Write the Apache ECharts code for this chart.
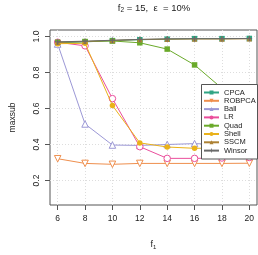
<!DOCTYPE html>
<html><head><meta charset="utf-8">
<script src="https://cdn.jsdelivr.net/npm/echarts@6/dist/echarts.min.js"></script>
<style>html,body{margin:0;padding:0;background:#fff}#c{width:258px;height:255px}</style>
</head><body><div id="c"></div>
<script>
const xValues = [6, 8, 10, 12, 14, 16, 18, 20];
const xTicks = [6, 8, 10, 12, 14, 16, 18, 20];
const yTicks = [0.2, 0.4, 0.6, 0.8, 1.0];
const seriesNames = ['CPCA', 'ROBPCA', 'Ball', 'LR', 'Quad', 'Shell', 'SSCM', 'Winsor'];
const CPCA   = [0.965, 0.970, 0.977, 0.982, 0.985, 0.988, 0.988, 0.989];
const ROBPCA = [0.321, 0.295, 0.290, 0.295, 0.295, 0.295, 0.295, 0.296];
const Ball   = [0.958, 0.514, 0.397, 0.395, 0.400, 0.405, 0.400, 0.400];
const LR     = [0.968, 0.948, 0.655, 0.388, 0.323, 0.323, 0.325, 0.328];
const Quad   = [0.968, 0.972, 0.975, 0.965, 0.930, 0.842, 0.712, 0.580];
const Shell  = [0.960, 0.962, 0.617, 0.409, 0.386, 0.379, 0.380, 0.381];
const SSCM   = [0.968, 0.972, 0.978, 0.983, 0.985, 0.986, 0.986, 0.987];
const Winsor = [0.970, 0.974, 0.979, 0.984, 0.987, 0.988, 0.988, 0.989];
const values = [CPCA, ROBPCA, Ball, LR, Quad, Shell, SSCM, Winsor];

const colors = ['#2fa584', '#ef8f4e', '#9c98d6', '#ea4e9c', '#6aaa2a', '#eab21a', '#ad8234', '#6a6a6a'];
const plusPath = 'path://M4,0h2v4h4v2h-4v4h-2v-4h-4v-2h4z';
const symbols = ['rect', 'triangle', 'triangle', 'circle', 'rect', 'circle', 'triangle', plusPath];
const rotates = [0, 180, 0, 0, 0, 0, 0, 0];
const open = [false, true, true, true, false, false, false, false];
const sizes = [5.5, 6.5, 6.5, 6.5, 5.5, 5.5, 5.5, 5.5];

const series = seriesNames.map((n, i) => ({
  name: n, type: 'line',
  data: xValues.map((x, j) => [x, values[i][j]]),
  symbol: symbols[i], symbolRotate: rotates[i], symbolSize: sizes[i],
  showSymbol: true,
  lineStyle: { color: colors[i], width: 1 },
  itemStyle: open[i] ? { color: '#fff', borderColor: colors[i], borderWidth: 1 } : { color: colors[i], borderWidth: 0 },
  emphasis: { disabled: true },
  z: 2 + i * 0.01
}));

const chart = echarts.init(document.getElementById('c'), null, { renderer: 'canvas' });
chart.setOption({
  animation: false,
  backgroundColor: '#fff',
  textStyle: { fontFamily: 'Liberation Sans, Arial, sans-serif' },
  title: {
    text: '{a|f}{s|2}{a| = 15,  ε  = 10%}',
    left: 149, top: -3, textAlign: 'center',
    textStyle: { fontWeight: 'normal', rich: { a: { fontSize: 9.5, color: '#222', fontWeight: 'normal' }, s: { fontSize: 6.5, color: '#222', fontWeight: 'normal', verticalAlign: 'bottom', padding: [5, 0, 0, 0] } } }
  },
  grid: { left: 41, top: 30, right: 1, bottom: 42, show: true, borderColor: '#555', borderWidth: 1, backgroundColor: 'transparent' },
  xAxis: {
    type: 'value', min: 5.44, max: 20.56,
    name: '{a|f}{s|1}', nameLocation: 'middle', nameGap: 34,
    nameTextStyle: { rich: { a: { fontSize: 9, color: '#222' }, s: { fontSize: 6, color: '#222', padding: [5, 0, 0, 0] } } },
    axisLine: { show: false },
    axisTick: { show: true, length: 5, customValues: xTicks, lineStyle: { color: '#555' } },
    axisLabel: { customValues: xTicks, fontSize: 8.5, color: '#222', margin: 9, formatter: v => String(v) },
    splitLine: { show: true, lineStyle: { color: '#ddd', type: [1, 2], width: 1 } }
  },
  yAxis: {
    type: 'value', min: 0.064, max: 1.036,
    name: 'maxsub', nameLocation: 'middle', nameGap: 33, nameRotate: 90,
    nameTextStyle: { fontSize: 8.5, color: '#222' },
    axisLine: { show: false },
    axisTick: { show: true, length: 5, customValues: yTicks, lineStyle: { color: '#555' } },
    axisLabel: { customValues: yTicks, fontSize: 8.5, color: '#222', rotate: 90, margin: 9, formatter: v => v.toFixed(1) },
    splitLine: { show: true, lineStyle: { color: '#ddd', type: [1, 2], width: 1 } }
  },
  graphic: [{ type: 'rect', shape: { x: 201.5, y: 84.5, width: 56, height: 74.5 }, style: { fill: '#fff', stroke: '#555', lineWidth: 1 }, z: 50, silent: true }],
  legend: {
    orient: 'vertical', left: 202, top: 84, z: 60,
    padding: [4.5, 2, 4, 1], itemGap: 0.3, itemWidth: 15, itemHeight: 5,
    textStyle: { fontSize: 7.5, color: '#222', lineHeight: 8 },
    data: seriesNames.map((n, i) => ({ name: n, itemStyle: { color: colors[i], borderWidth: 0 } })),
    selectedMode: false
  },
  series: series
});
</script></body></html>
